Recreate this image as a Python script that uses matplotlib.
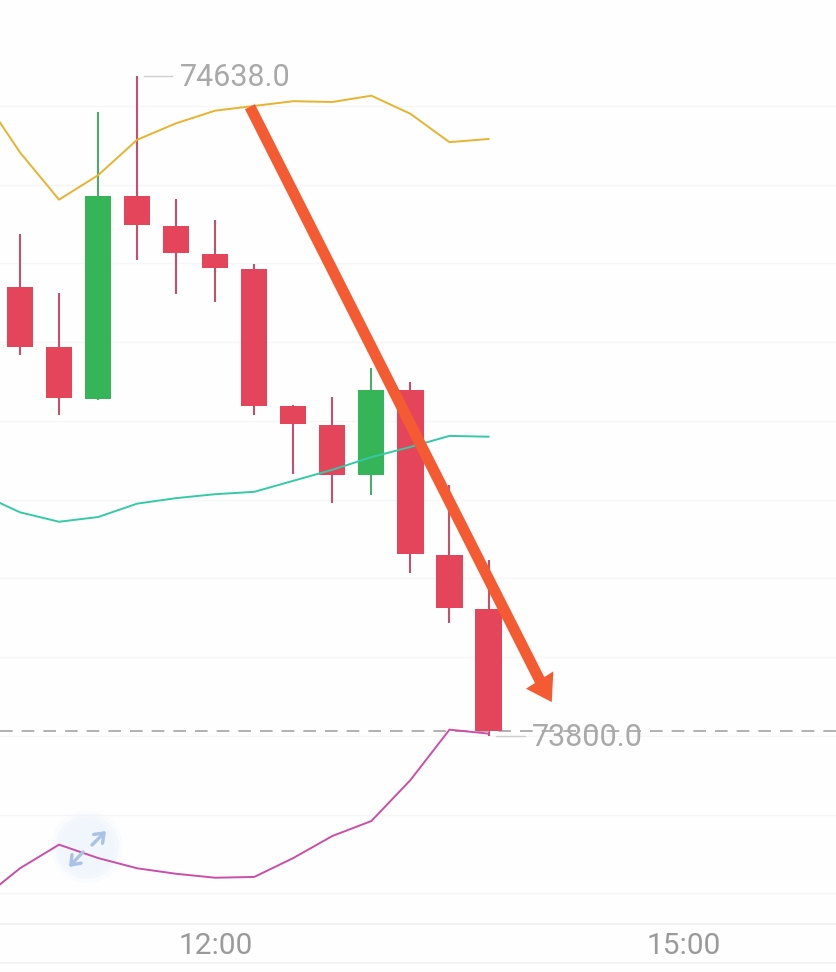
import matplotlib
matplotlib.use('Agg')
import matplotlib.pyplot as plt
from matplotlib.patches import Circle, Polygon

plt.rcParams['font.family'] = ['Roboto', 'DejaVu Sans']

# 15 min candles, index 5 is 12:00
candle_idx = list(range(13))
opens = [74370, 74294, 74228, 74486, 74448, 74412, 74393, 74219, 74195, 74131, 74239, 74030, 73961]
closes = [74294, 74229, 74486, 74449, 74413, 74394, 74219, 74196, 74131, 74239, 74031, 73963, 73806]
highs = [74437, 74362, 74592, 74638, 74482, 74455, 74399, 74220, 74230, 74267, 74249, 74119, 74023]
lows = [74284, 74208, 74227, 74404, 74361, 74351, 74208, 74133, 74096, 74106, 74007, 73943, 73800]

# Bollinger bands (starts one candle before the first visible one)
band_idx = list(range(-1, 13))
upper = [74615, 74541, 74481, 74512, 74557, 74578, 74594, 74600, 74606, 74605, 74613, 74590, 74554, 74558]
middle = [74107, 74084, 74072, 74078, 74095, 74102, 74107, 74110, 74124, 74138, 74154, 74167, 74181, 74180]
lower = [73592, 73632, 73662, 73645, 73632, 73625, 73620, 73621, 73645, 73673, 73692, 73744, 73808, 73803]

grid_prices = [74600, 74500, 74400, 74300, 74200, 74100, 74000, 73900, 73800, 73700, 73600]
last_price = 73806
max_label = 74638
min_label = 73800
time_idx = [5, 17]
time_labels = ['12:00', '15:00']

# hand drawn arrow on the chart
arrow_x = [5.89, 13.32]
arrow_y = [74599, 73870]
head_x = [12.96, 13.66, 13.62]
head_y = [73860, 73882, 73843]

RED = '#E5455A'
GREEN = '#36B458'

fig = plt.figure(figsize=(8.36, 9.72), dpi=100, facecolor='#FEFEFE')
ax = fig.add_axes([0, 0, 1, 1])
ax.set_xlim(-0.512, 20.9)
ax.set_ylim(73500.3, 74734.5)
ax.axis('off')

# overlay in pixels for the screen furniture
ov = fig.add_axes([0, 0, 1, 1], facecolor='none')
ov.set_xlim(0, 836)
ov.set_ylim(972, 0)
ov.axis('off')

for p in grid_prices:
    ax.axhline(p, color='#F6F6F6', lw=1, zorder=1)

for i, o, c, h, l in zip(candle_idx, opens, closes, highs, lows):
    col = GREEN if c > o else RED
    wick = '#4FA86E' if c > o else '#C4506C'
    ax.vlines(i, l, h, color=wick, lw=1.5, zorder=2)
    ax.bar(i, abs(c - o), bottom=min(o, c), width=0.67, color=col, zorder=3)

ax.plot(band_idx, upper, color='#E8B32E', lw=1.4, zorder=4)
ax.plot(band_idx, middle, color='#35C9A6', lw=1.4, zorder=4)
ax.plot(band_idx, lower, color='#C94FA8', lw=1.4, zorder=4)

ax.axhline(last_price, color='#ABABAB', lw=1.3, dashes=(7, 5), zorder=2)

# max / min labels
ax.plot([3.17, 3.9], [max_label, max_label], color='#CFCFCF', lw=1, zorder=4)
ax.annotate(f'{max_label:.1f}', xy=(4.09, max_label), xytext=(0, -1.2), textcoords='offset points',
            color='#A9A9A9', fontsize=22, va='center', ha='left', zorder=6)
ax.plot([12.2, 12.93], [min_label, min_label], color='#CFCFCF', lw=1, zorder=4)
ax.annotate(f'{min_label:.1f}', xy=(13.1, min_label), xytext=(0, -1.2), textcoords='offset points',
            color='#A9A9A9', fontsize=22, va='center', ha='left', zorder=6)

# arrow
ax.plot(arrow_x, arrow_y, color='#F45B32', lw=8, solid_capstyle='butt', zorder=5)
ax.add_patch(Polygon(list(zip(head_x, head_y)), closed=True, color='#F45B32', lw=0, zorder=5))

ov.axhline(924, color='#EFEFEF', lw=1.2)
ov.axhline(963, color='#F1F1F1', lw=1.2)
for i, lab in zip(time_idx, time_labels):
    ov.text(20 + 39.07 * i, 945.5, lab, color='#9A9A9A', fontsize=21.5, ha='center', va='center')

# expand button, pale disc sits under the band lines
for r, a in [(36, 0.25), (32, 0.35), (28, 0.4)]:
    ax.add_patch(Circle((87, 847), r, color='#EDF4FD', alpha=a, lw=0, transform=ov.transData, zorder=1.5))
icon = dict(arrowstyle='->,head_length=0.6,head_width=0.45', color='#A9C2E6', lw=2.4, shrinkA=0, shrinkB=0)
ov.annotate('', xy=(106, 831), xytext=(92, 845), arrowprops=icon)
ov.annotate('', xy=(69, 867), xytext=(83, 852), arrowprops=icon)

fig.savefig('out.png', dpi=100)
